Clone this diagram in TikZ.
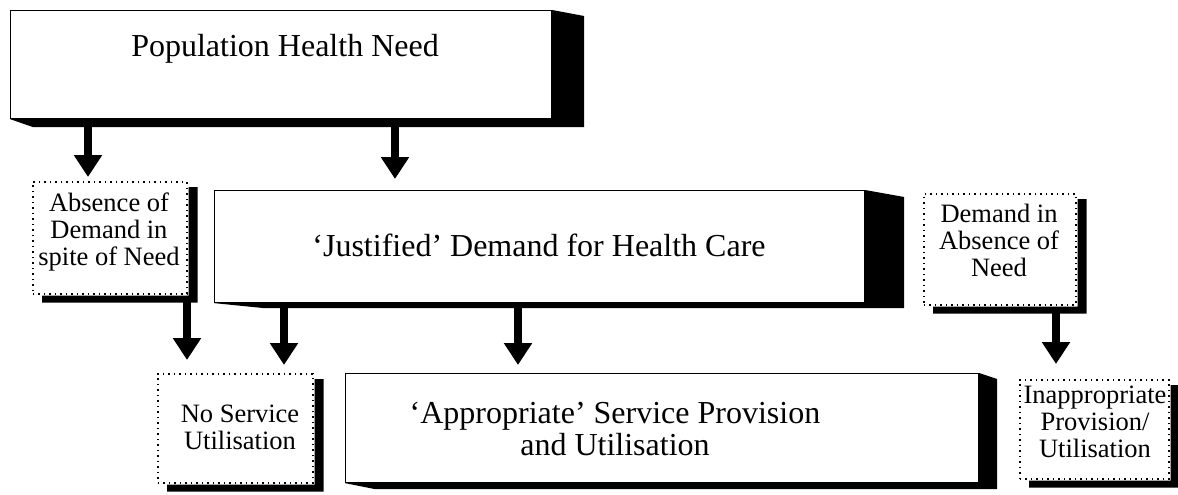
\documentclass[tikz,border=0pt]{standalone}
\usepackage{fontspec}
\setmainfont{Liberation Serif}
\usetikzlibrary{arrows.meta,calc}
\newcommand\mainshade[5]{% name, dx, dy top, dy bottom, sw-dx
  \fill[black] (#1.north east) -- ($(#1.north east)+(#2,#3)$) -- ($(#1.south east)+(#2,#4)$)
    -- ($(#1.south west)+(#5,#4)$) -- (#1.south west) -- (#1.south east) -- cycle;}
\newcommand\dotshade[1]{%
  \fill[black] ($(#1.north east)+(1,6)$) -- ($(#1.north east)+(10,6)$) -- ($(#1.south east)+(10,8)$)
    -- ($(#1.south west)+(10,8)$) -- ($(#1.south west)+(10,1)$) -- ($(#1.south east)+(1,1)$) -- cycle;}
\begin{document}
\begin{tikzpicture}[x=1pt,y=-1pt,
  frontbox/.style={draw=black, line width=1.1pt, fill=white, inner sep=0pt, anchor=north west},
  dotbox/.style={draw=black, line width=1.5pt, dash pattern=on 1.5pt off 4pt, fill=white, inner sep=0pt, anchor=north west},
  bigtext/.style={font=\fontsize{32}{32}\selectfont, align=center, inner sep=0pt},
  smalltext/.style={font=\fontsize{26.5}{27}\selectfont, align=center, inner sep=0pt},
  bigarrow/.style={line width=7.5pt, -{Triangle[width=27pt,length=22pt]}},
]
\fill[white] (0,0) rectangle (1178,495);
\useasboundingbox (0,0) rectangle (1178,495);

% main boxes
\node[frontbox, minimum width=541pt, minimum height=108pt] (pop) at (10,10) {};
\mainshade{pop}{32}{6}{8}{23}
\node[frontbox, minimum width=650pt, minimum height=112pt] (just) at (214,190) {};
\mainshade{just}{39}{7}{5}{50}
\node[frontbox, minimum width=633pt, minimum height=109pt] (app) at (345,373) {};
\mainshade{app}{18}{6}{6}{30}

% dotted side boxes
\node[dotbox, minimum width=154pt, minimum height=112pt] (abs) at (32,181) {};
\dotshade{abs}
\node[dotbox, minimum width=155pt, minimum height=109pt] (nos) at (157,373) {};
\dotshade{nos}
\node[dotbox, minimum width=152pt, minimum height=111pt] (dem) at (923,193) {};
\dotshade{dem}
\node[dotbox, minimum width=149pt, minimum height=99pt] (inap) at (1019,379) {};
\dotshade{inap}

% texts
\node[bigtext, anchor=base] (poptext) at (285,57) {Population Health Need};
\node[bigtext, anchor=base] (justtext) at (539,256) {‘Justified’ Demand for Health Care};
\node[bigtext, anchor=north] (apptext) at (615,401) {‘Appropriate’ Service Provision\strut\\and Utilisation\strut};
\node[smalltext, anchor=north] (abstext) at (109,192) {Absence of\strut\\Demand in\strut\\spite of Need\strut};
\node[smalltext, anchor=north] (nostext) at (240,403) {No Service\strut\\Utilisation\strut};
\node[smalltext, anchor=north] (demtext) at (999,203) {Demand in\strut\\Absence of\strut\\Need\strut};
\node[smalltext, anchor=north] (inaptext) at (1095,384) {Inappropriate\strut\\Provision/\strut\\Utilisation\strut};

% arrow columns
\coordinate (c1) at (88,0);
\coordinate (c2) at (395,0);
\coordinate (c3) at (187,0);
\coordinate (c4) at (284,0);
\coordinate (c5) at (518,0);
\coordinate (c6) at (1056,0);

\draw[bigarrow] ($(pop.south -| c1)+(0,6)$) -- ($(abs.north -| c1)+(0,-4)$);
\draw[bigarrow] ($(pop.south -| c2)+(0,6)$) -- ($(just.north -| c2)+(0,-11)$);
\draw[bigarrow] ($(abs.south -| c3)+(0,7)$) -- ($(nos.north -| c3)+(0,-13)$);
\draw[bigarrow] ($(just.south -| c4)+(0,4)$) -- ($(nos.north -| c4)+(0,-8)$);
\draw[bigarrow] ($(just.south -| c5)+(0,4)$) -- ($(app.north -| c5)+(0,-8)$);
\draw[bigarrow] ($(dem.south -| c6)+(0,7)$) -- ($(inap.north -| c6)+(0,-15)$);
\end{tikzpicture}
\end{document}
